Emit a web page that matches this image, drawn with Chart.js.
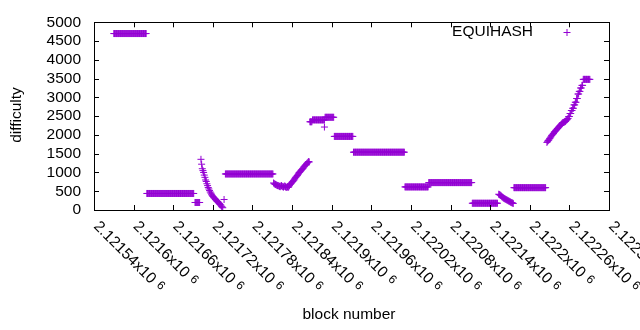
<!DOCTYPE html>
<html>
<head>
<meta charset="utf-8">
<script src="https://cdn.jsdelivr.net/npm/chart.js@4/dist/chart.umd.min.js"></script>
<style>
  body { margin: 0; background: #fff; }
  canvas { display: block; }
</style>
</head>
<body>
<canvas id="myChart" width="640" height="330"></canvas>
<script>
// flat stretches: first block, last block, difficulty
const runFrom  = [2121570, 2121620, 2121693, 2121739, 2121867, 2121871, 2121890, 2121904, 2121933, 2122011, 2122047, 2122113, 2122176, 2122281];
const runTo    = [2121619, 2121691, 2121700, 2121811, 2121870, 2121889, 2121903, 2121932, 2122010, 2122046, 2122112, 2122151, 2122224, 2122291];
const runLevel = [4700, 440, 200, 960, 2350, 2400, 2470, 1960, 1540, 615, 730, 180, 595, 3480];

// stretches that move block by block
const dropStart = 2121702;
const dropValues = [1350, 1220, 1100, 1050, 1000, 930, 870, 800, 760, 700, 650, 600, 560, 520, 480, 450, 420, 390, 360, 340,
                    320, 300, 280, 260, 240, 225, 210, 190, 170, 150, 130, 100, 80, 60];
const dipStart = 2121812;
const dipValues = [720, 700, 690, 680, 670, 660, 650, 650, 640, 630, 620, 640, 650, 630, 620, 610, 630, 640, 620, 600,
                   610, 620, 600, 620, 650, 680, 700, 720, 740, 760, 780, 800, 830, 860, 880, 900, 920, 950, 980, 1000,
                   1020, 1040, 1060, 1080, 1100, 1120, 1150, 1170, 1190, 1210, 1230, 1250, 1270, 1290, 1280];
const drop2Start = 2122153;
const drop2Values = [420, 410, 400, 390, 370, 350, 340, 320, 310, 300, 290, 280, 270, 260, 250, 240, 230, 220, 210, 200, 190, 185, 175];
const climbStart = 2122226;
const climbValues = [1800, 1830, 1850, 1870, 1900, 1920, 1950, 1980, 2000, 2020, 2040, 2070, 2090, 2110, 2130, 2150, 2170, 2190, 2210, 2230,
                     2250, 2270, 2290, 2310, 2330, 2330, 2340, 2350, 2360, 2380, 2400, 2420, 2440,
                     2490, 2490, 2570, 2570, 2650, 2650, 2710, 2710, 2800, 2800, 2870, 2870, 2970, 2970, 3090, 3090, 3160, 3160, 3250, 3250, 3320, 3320];

// single stray blocks
const strayBlock = [2121737, 2121889];
const strayLevel = [280, 2210];

const blockTicks = [2121540, 2121600, 2121660, 2121720, 2121780, 2121840, 2121900, 2121960, 2122020, 2122080, 2122140, 2122200, 2122260, 2122320];
const blockTickText = ['2.12154', '2.1216', '2.12166', '2.12172', '2.12178', '2.12184', '2.1219', '2.12196', '2.12202', '2.12208', '2.12214', '2.1222', '2.12226', '2.12232'];

const PURPLE = '#9400d3';
const FONT = 'Liberation Sans, Arial, sans-serif';

function buildPoints(){
    const pts = [];
    for (let i = 0; i < runFrom.length; i++) {
        for (let b = runFrom[i]; b <= runTo[i]; b++) pts.push({x: b, y: runLevel[i]});
    }
    const curves = [[dropStart, dropValues], [dipStart, dipValues], [drop2Start, drop2Values], [climbStart, climbValues]];
    curves.forEach(c => {
        c[1].forEach((v, k) => pts.push({x: c[0] + k, y: v}));
    });
    strayBlock.forEach((b, k) => pts.push({x: b, y: strayLevel[k]}));
    return pts;
}

const decorations = {
    id: 'decorations',
    afterDraw(chart){
        const ctx = chart.ctx;
        const a = chart.chartArea;
        const xs = chart.scales.x, ys = chart.scales.y;
        ctx.save();
        ctx.strokeStyle = '#000';
        ctx.lineWidth = 1;
        ctx.beginPath();
        // inward ticks
        ys.ticks.forEach(t => {
            const py = Math.round(ys.getPixelForValue(t.value)) + 0.5;
            ctx.moveTo(a.left, py); ctx.lineTo(a.left + 5, py);
            ctx.moveTo(a.right, py); ctx.lineTo(a.right - 5, py);
        });
        blockTicks.forEach(v => {
            const px = Math.round(xs.getPixelForValue(v)) + 0.5;
            ctx.moveTo(px, a.bottom); ctx.lineTo(px, a.bottom - 5);
            ctx.moveTo(px, a.top); ctx.lineTo(px, a.top + 5);
        });
        ctx.stroke();
        ctx.strokeRect(Math.round(a.left) + 0.5, Math.round(a.top) + 0.5, Math.round(a.right - a.left), Math.round(a.bottom - a.top));

        // rotated x labels
        ctx.fillStyle = '#000';
        blockTicks.forEach((v, i) => {
            const px = xs.getPixelForValue(v);
            ctx.save();
            ctx.translate(px + 2, a.bottom + 14);
            ctx.rotate(Math.PI / 4);
            ctx.textAlign = 'left';
            ctx.textBaseline = 'middle';
            ctx.font = '15.5px ' + FONT;
            const main = blockTickText[i] + 'x10';
            ctx.fillText(main, 0, 0);
            const w = ctx.measureText(main).width;
            ctx.font = '12px ' + FONT;
            ctx.fillText('6', w + 5, -2);
            ctx.restore();
        });

        // axis titles
        ctx.font = '15.5px ' + FONT;
        ctx.textAlign = 'center';
        ctx.textBaseline = 'middle';
        ctx.fillText('block number', 349, 315);
        ctx.save();
        ctx.translate(17, 115);
        ctx.rotate(-Math.PI / 2);
        ctx.fillText('difficulty', 0, 0);
        ctx.restore();

        // key
        ctx.textAlign = 'right';
        ctx.fillText('EQUIHASH', 533, 32);
        ctx.strokeStyle = PURPLE;
        ctx.beginPath();
        ctx.moveTo(563.5, 32.5); ctx.lineTo(570.5, 32.5);
        ctx.moveTo(567, 29); ctx.lineTo(567, 36);
        ctx.stroke();
        ctx.restore();
    }
};

new Chart(document.getElementById('myChart').getContext('2d'), {
    type: 'scatter',
    data: {
        datasets: [{
            label: 'EQUIHASH',
            data: buildPoints(),
            pointStyle: 'cross',
            pointRadius: 3.5,
            pointBorderWidth: 1,
            borderColor: PURPLE,
            backgroundColor: PURPLE,
            showLine: false
        }]
    },
    options: {
        responsive: false,
        animation: false,
        layout: { padding: { left: 0, top: 19, right: 31, bottom: 0 }, autoPadding: false },
        plugins: { legend: { display: false }, tooltip: { enabled: false } },
        scales: {
            x: {
                type: 'linear',
                min: 2121540,
                max: 2122320,
                grid: { display: false, drawTicks: false },
                border: { display: false },
                ticks: { display: false, stepSize: 60 },
                afterFit: s => { s.height = 120; }
            },
            y: {
                min: 0,
                max: 5000,
                grid: { display: false, drawTicks: false },
                border: { display: false },
                ticks: {
                    stepSize: 500,
                    autoSkip: false,
                    padding: 13,
                    color: '#000',
                    font: { family: FONT, size: 15.5 },
                    callback: value => String(value)
                },
                afterFit: s => { s.width = 94; }
            }
        }
    },
    plugins: [decorations]
});
</script>
</body>
</html>
